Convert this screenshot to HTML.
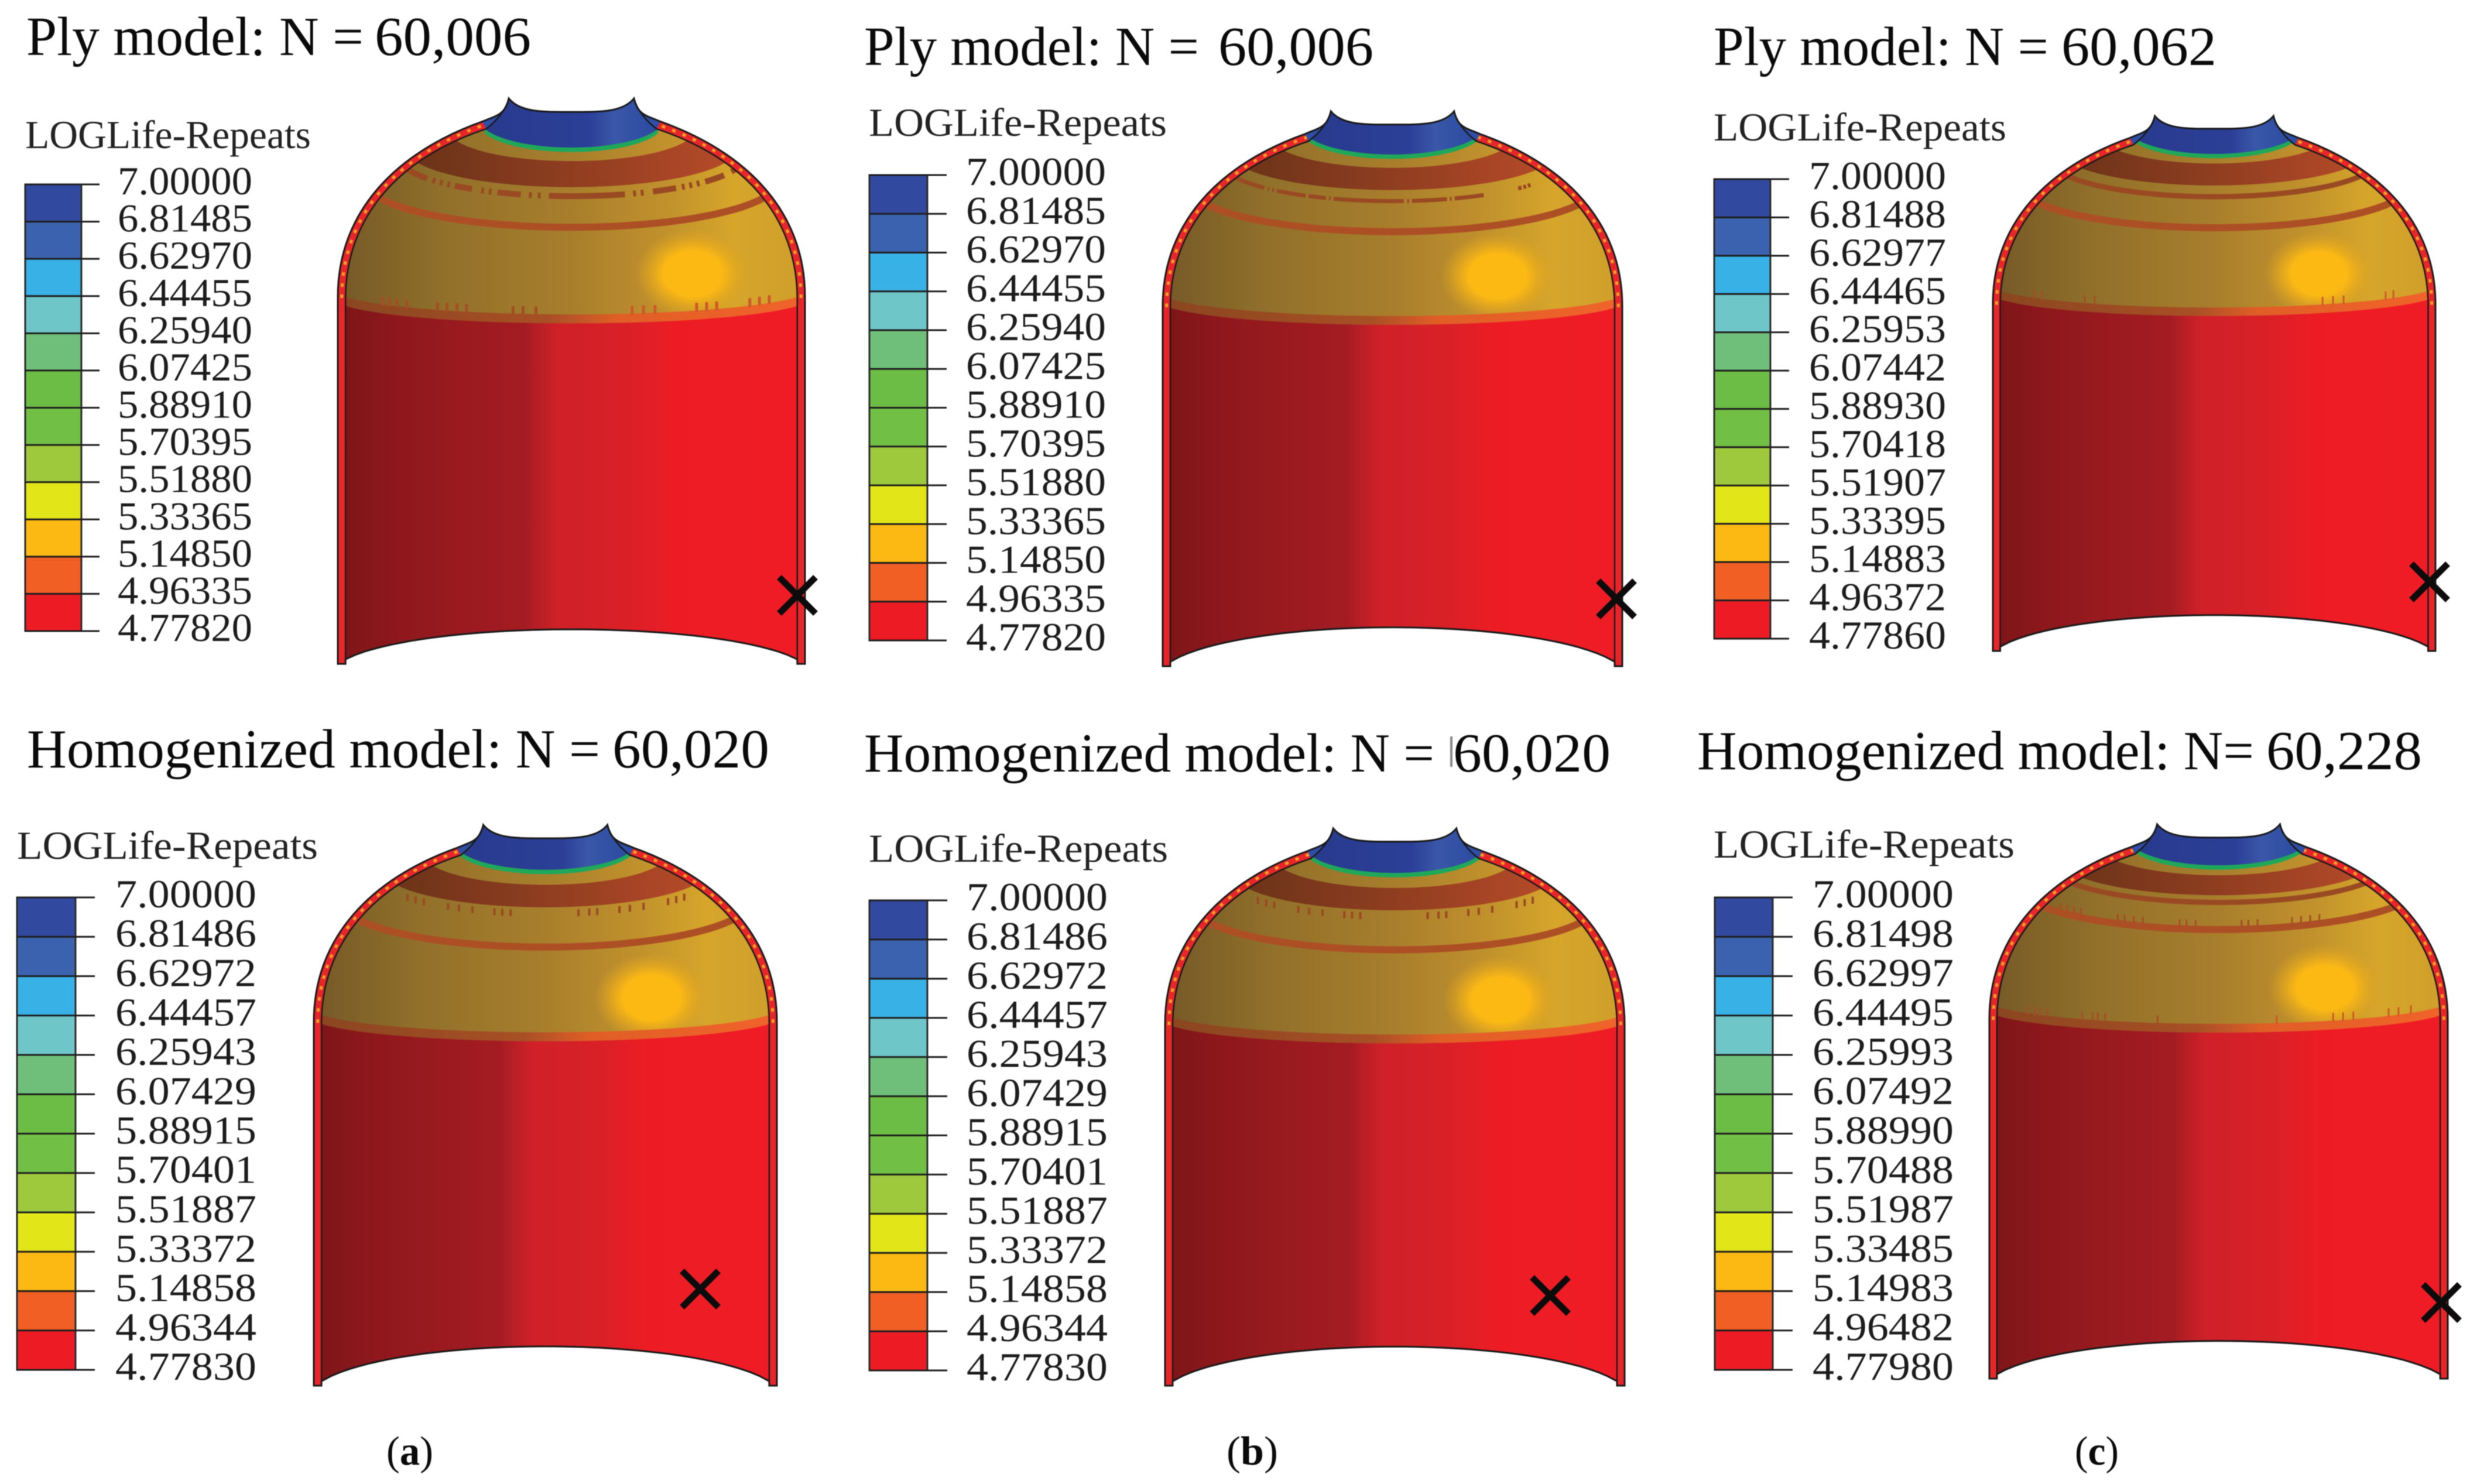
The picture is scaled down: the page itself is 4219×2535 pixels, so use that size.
<!DOCTYPE html>
<html lang="en">
<head>
<meta charset="utf-8">
<title>Fatigue life contours: ply and homogenized models</title>
<style>
html,body{margin:0;padding:0;background:#fff;width:4219px;height:2535px;overflow:hidden}
svg{display:block;filter:blur(.8px)}
text{font-family:"Liberation Serif","Times New Roman",serif;fill:#0a0a0a}
.head{font-size:94px}
.legend-title{font-size:68px;fill:#222}
.cap{font-size:70px}
</style>
</head>
<body>
<svg id="figure" xmlns="http://www.w3.org/2000/svg" width="4219" height="2535" viewBox="0 0 4219 2535">
<defs>
  <linearGradient id="bodyGrad" x1="0" x2="1" y1="0" y2="0">
    <stop offset="0" stop-color="#7f1518"/><stop offset=".13" stop-color="#8f181c"/>
    <stop offset=".4" stop-color="#a41c22"/><stop offset=".42" stop-color="#b31e25"/>
    <stop offset=".47" stop-color="#d02028"/><stop offset=".62" stop-color="#d92027"/>
    <stop offset=".73" stop-color="#ed1c24"/><stop offset="1" stop-color="#ef1c25"/>
  </linearGradient>
  <linearGradient id="domeGrad" x1="0" x2="1" y1="0" y2="0">
    <stop offset="0" stop-color="#775a27"/><stop offset=".22" stop-color="#91702a"/>
    <stop offset=".5" stop-color="#a87e2c"/><stop offset=".7" stop-color="#bf902c"/>
    <stop offset=".86" stop-color="#d6a52a"/><stop offset="1" stop-color="#cf9f2a"/>
  </linearGradient>
  <linearGradient id="brownGrad" x1="0" x2="1" y1="0" y2="0">
    <stop offset="0" stop-color="#6b3318"/><stop offset=".5" stop-color="#8f3d20"/><stop offset="1" stop-color="#b54a28"/>
  </linearGradient>
  <linearGradient id="edgeGrad" x1="0" x2="1" y1="0" y2="0">
    <stop offset="0" stop-color="#8a4620"/><stop offset=".45" stop-color="#a84f25"/>
    <stop offset=".6" stop-color="#e05e26"/><stop offset="1" stop-color="#f0632a"/>
  </linearGradient>
  <linearGradient id="capGrad" x1="0" x2="1" y1="0" y2="0">
    <stop offset="0" stop-color="#283a8c"/><stop offset=".6" stop-color="#2b3f98"/>
    <stop offset=".75" stop-color="#3a57a8"/><stop offset="1" stop-color="#2a49a0"/>
  </linearGradient>
  <radialGradient id="hotGrad">
    <stop offset="0" stop-color="#fdb913"/><stop offset=".5" stop-color="#fdb913"/>
    <stop offset=".72" stop-color="#e8ab1c" stop-opacity=".7"/><stop offset="1" stop-color="#d9a226" stop-opacity="0"/>
  </radialGradient>
</defs>

<g>
  <text class="head" x="45" y="94" textLength="576" lengthAdjust="spacingAndGlyphs">Ply model: N =</text>
  <text class="head" x="640" y="94" textLength="267" lengthAdjust="spacingAndGlyphs">60,006</text>
  <text class="head" x="1476" y="111" textLength="572" lengthAdjust="spacingAndGlyphs">Ply model: N =</text>
  <text class="head" x="2081" y="111" textLength="265" lengthAdjust="spacingAndGlyphs">60,006</text>
  <text class="head" x="2927" y="111" textLength="572" lengthAdjust="spacingAndGlyphs">Ply model: N =</text>
  <text class="head" x="3521" y="111" textLength="265" lengthAdjust="spacingAndGlyphs">60,062</text>
  <text class="head" x="46" y="1311" textLength="979" lengthAdjust="spacingAndGlyphs">Homogenized model: N =</text>
  <text class="head" x="1046" y="1311" textLength="268" lengthAdjust="spacingAndGlyphs">60,020</text>
  <text class="head" x="1476" y="1318" textLength="974" lengthAdjust="spacingAndGlyphs">Homogenized model: N =</text>
  <rect x="2477" y="1258" width="4" height="52" fill="#888"/>
  <text class="head" x="2482" y="1318" textLength="269" lengthAdjust="spacingAndGlyphs">60,020</text>
  <text class="head" x="2899" y="1314" textLength="951" lengthAdjust="spacingAndGlyphs">Homogenized model: N=</text>
  <text class="head" x="3871" y="1314" textLength="266" lengthAdjust="spacingAndGlyphs">60,228</text>
</g>

<g>
  <text class="legend-title" x="43" y="253" textLength="488" lengthAdjust="spacingAndGlyphs">LOGLife-Repeats</text>
  <text class="legend-title" x="1484" y="232" textLength="509" lengthAdjust="spacingAndGlyphs">LOGLife-Repeats</text>
  <text class="legend-title" x="2927" y="240" textLength="500" lengthAdjust="spacingAndGlyphs">LOGLife-Repeats</text>
  <text class="legend-title" x="29" y="1467" textLength="514" lengthAdjust="spacingAndGlyphs">LOGLife-Repeats</text>
  <text class="legend-title" x="1484" y="1472" textLength="511" lengthAdjust="spacingAndGlyphs">LOGLife-Repeats</text>
  <text class="legend-title" x="2927" y="1465" textLength="514" lengthAdjust="spacingAndGlyphs">LOGLife-Repeats</text>
</g>

<g>
  <text class="cap" x="660" y="2502" textLength="80" lengthAdjust="spacingAndGlyphs">(<tspan font-weight="bold">a</tspan>)</text>
  <text class="cap" x="2095" y="2502" textLength="88" lengthAdjust="spacingAndGlyphs">(<tspan font-weight="bold">b</tspan>)</text>
  <text class="cap" x="3544" y="2502" textLength="75" lengthAdjust="spacingAndGlyphs">(<tspan font-weight="bold">c</tspan>)</text>
</g>
</svg>

<script>
// Legend tick labels, one small array per panel.
const ticksPlyA = ['7.00000','6.81485','6.62970','6.44455','6.25940','6.07425','5.88910','5.70395','5.51880','5.33365','5.14850','4.96335','4.77820'];
const ticksPlyB = ['7.00000','6.81485','6.62970','6.44455','6.25940','6.07425','5.88910','5.70395','5.51880','5.33365','5.14850','4.96335','4.77820'];
const ticksPlyC = ['7.00000','6.81488','6.62977','6.44465','6.25953','6.07442','5.88930','5.70418','5.51907','5.33395','5.14883','4.96372','4.77860'];
const ticksHomA = ['7.00000','6.81486','6.62972','6.44457','6.25943','6.07429','5.88915','5.70401','5.51887','5.33372','5.14858','4.96344','4.77830'];
const ticksHomB = ['7.00000','6.81486','6.62972','6.44457','6.25943','6.07429','5.88915','5.70401','5.51887','5.33372','5.14858','4.96344','4.77830'];
const ticksHomC = ['7.00000','6.81498','6.62997','6.44495','6.25993','6.07492','5.88990','5.70488','5.51987','5.33485','5.14983','4.96482','4.77980'];
// Contour colours, top interval to bottom interval.
const contourColors = ['#314a9f','#3b62ae','#38b1e6','#6ec6c8','#6fbf7a','#6cbd45','#71bf44','#9fc93c','#e2e518','#fdb913','#f15f25','#ed1c24'];

const panelLayouts = [
  {id:'ply-a', ticks:ticksPlyA, bar:[43,139,315,1078], tickEnd:170, lab:[201,431],
   v:[577,1375,168,1134], fail:[1362,1017], hot:[.52,.31],
   bands:{green:.087,b2t:.111,b2b:.157,b3:.173,b4:.228,red:.398,foot:.939}, b3:'broken',
   edgeTicks:[-.808,-.78,-.746,-.705,-.574,-.532,-.49,-.449,-.25,-.207,-.152,.26,.309,.358,.536,.579,.622,.764,.805,.847], edgeW:5, ringTicks:[], b3Ticks:[]},
  {id:'ply-b', ticks:ticksPlyB, bar:[1485,1584,299,1094], tickEnd:1617, lab:[1650,1889],
   v:[1986,2771,190,1138], fail:[2761,1023], hot:[.457,.297],
   bands:{green:.078,b2t:.102,b2b:.142,b3:.162,b4:.217,red:.385,foot:.93}, b3:'fine',
   edgeTicks:[], edgeW:0, ringTicks:[], b3Ticks:[]},
  {id:'ply-c', ticks:ticksPlyC, bar:[2928,3024,306,1091], tickEnd:3056, lab:[3090,3324],
   v:[3404,4160,198,1112], fail:[4150,994], hot:[.474,.295],
   bands:{green:.071,b2t:.089,b2b:.13,b3:.151,b4:.209,red:.374,foot:.933}, b3:'solid',
   edgeTicks:[-.81,-.777,-.585,-.54,.49,.537,.585,.775,.81], edgeW:3, ringTicks:[], b3Ticks:[]},
  {id:'homogenized-a', ticks:ticksHomA, bar:[29,129,1533,2340], tickEnd:162, lab:[197,438],
   v:[536,1327,1409,2367], fail:[1196,2202], hot:[.459,.308],
   bands:{green:.08,b2t:.107,b2b:.147,b3:.158,b4:.218,red:.386,foot:.93}, b3:'none',
   edgeTicks:[], edgeW:0, ringTicks:[], b3Ticks:[-.596,-.56,-.525,-.42,-.373,-.315,-.22,-.186,-.15,.143,.19,.224,.32,.365,.424,.53,.565,.6]},
  {id:'homogenized-b', ticks:ticksHomB, bar:[1485,1584,1538,2341], tickEnd:1618, lab:[1651,1892],
   v:[1990,2775,1415,2367], fail:[2648,2213], hot:[.46,.308],
   bands:{green:.08,b2t:.107,b2b:.147,b3:.158,b4:.218,red:.386,foot:.93}, b3:'none',
   edgeTicks:[], edgeW:0, ringTicks:[], b3Ticks:[-.596,-.56,-.525,-.42,-.373,-.315,-.22,-.186,-.15,.143,.19,.224,.32,.365,.424,.53,.565,.6]},
  {id:'homogenized-c', ticks:ticksHomC, bar:[2929,3028,1533,2340], tickEnd:3062, lab:[3096,3337],
   v:[3398,4181,1408,2355], fail:[4170,2225], hot:[.466,.295],
   bands:{green:.074,b2t:.092,b2b:.128,b3:.141,b4:.19,red:.376,foot:.932}, b3:'solid',
   edgeTicks:[-.834,-.8,-.78,-.747,-.594,-.55,-.527,-.495,-.266,.254,.5,.543,.588,.742,.785,.839], edgeW:3,
   ringTicks:[-.69,-.66,-.63,-.6,-.44,-.41,-.37,-.33,-.17,-.14,-.1,.1,.13,.17,.32,.36,.4,.44], b3Ticks:[]}
];

const NS = 'http://www.w3.org/2000/svg';
const svg = document.getElementById('figure');
const defs = svg.querySelector('defs');

function make(parent, tag, attrs) {
  const node = document.createElementNS(NS, tag);
  for (const k in attrs) node.setAttribute(k, attrs[k]);
  parent.appendChild(node);
  return node;
}

// Band ends for each ring: half-extent across the dome and rise from centre to end.
const RING = {green:[.37,.033], b2t:[.5,.038], b2b:[.67,.046], b3:[.7,.047], b4:[.84,.056], red:[.97,.031], foot:[.967,0]};

function arcV(a, ae, rise, vc) {
  const s = .332;
  const ve = vc - rise;
  const vr = (ve - s * vc) / (1 - s);
  return vr + (vc - vr) * Math.sqrt(Math.max(0, 1 - Math.pow(a / (ae * 1.06), 2)));
}

function drawLegend(p, root) {
  const vals = p.ticks.map(parseFloat);
  const vMax = Math.max.apply(null, vals);
  const vMin = Math.min.apply(null, vals);
  const yScale = v => p.bar[2] + (vMax - v) / (vMax - vMin) * (p.bar[3] - p.bar[2]);
  const g = make(root, 'g', {});
  
  
  for (let i = 0; i < contourColors.length; i++) {
    const y0 = yScale(vals[i]);
    const y1 = yScale(vals[i + 1]);
    const swatch = make(g, 'rect', {x:p.bar[0], y:y0, width:p.bar[1]-p.bar[0], height:y1-y0, fill:contourColors[i]});
    
    
  }
  const frame = make(g, 'rect', {x:p.bar[0], y:p.bar[2], width:p.bar[1]-p.bar[0], height:p.bar[3]-p.bar[2], fill:'none', stroke:'#2a2a2a', 'stroke-width':3});
  
  
  p.ticks.forEach((label, i) => {
    const y = yScale(vals[i]);
    const line = make(g, 'line', {x1:p.bar[0], x2:p.tickEnd, y1:y, y2:y, stroke:'#1e1e1e', 'stroke-width':3});
    
    
    const t = make(g, 'text', {x:p.lab[0], y:y+17, 'font-size':68, textLength:p.lab[1]-p.lab[0], lengthAdjust:'spacingAndGlyphs', style:'fill:#1c1c1c'});
    t.textContent = label;
    
    
  });
}

function drawVessel(p, root) {
  const L = p.v[0], R = p.v[1], T = p.v[2], B = p.v[3];
  const cx = (L + R) / 2, hw = (R - L) / 2, H = B - T;
  const X = a => +(cx + a * hw).toFixed(1);
  const Y = v => +(T + v * H).toFixed(1);
  const P = (a, v) => X(a) + ' ' + Y(v);
  const b = p.bands;
  const arc = (key, vc, a0, a1) => {
    const pts = [];
    const ae = RING[key][0], rise = RING[key][1];
    const lo = a0 === undefined ? -ae : a0, hi = a1 === undefined ? ae : a1;
    for (let i = 0; i <= 48; i++) {
      const a = lo + (hi - lo) * i / 48;
      pts.push(P(a, arcV(a, ae, rise, vc)));
    }
    return pts;
  };
  const footEnd = .992;
  const footPts = [];
  for (let i = 0; i <= 48; i++) {
    const a = .967 - 1.934 * i / 48;
    const rise = b.foot - footEnd;
    footPts.push(P(a, arcV(a, .967, rise, b.foot)));
  }
  const topArc = 'C ' + P(-.22,.025) + ' ' + P(-.12,.024) + ' ' + P(0,.024) +
                 ' C ' + P(.12,.024) + ' ' + P(.22,.025) + ' ' + P(.268,0);
  const interior = 'M ' + P(-.967,footEnd) + ' L ' + P(-.967,.355) +
    ' C ' + P(-.967,.21) + ' ' + P(-.74,.105) + ' ' + P(-.365,.054) +
    ' C ' + P(-.32,.04) + ' ' + P(-.28,.02) + ' ' + P(-.268,0) + ' ' + topArc +
    ' C ' + P(.28,.02) + ' ' + P(.32,.04) + ' ' + P(.365,.054) +
    ' C ' + P(.74,.105) + ' ' + P(.967,.21) + ' ' + P(.967,.355) +
    ' L ' + footPts.join(' L ') + ' Z';
  const silhouette = 'M ' + P(-1,1) + ' L ' + P(-1,.351) +
    ' C ' + P(-1,.2) + ' ' + P(-.75,.095) + ' ' + P(-.381,.041) +
    ' C ' + P(-.32,.03) + ' ' + P(-.285,.03) + ' ' + P(-.268,0) + ' ' + topArc +
    ' C ' + P(.285,.03) + ' ' + P(.32,.03) + ' ' + P(.381,.041) +
    ' C ' + P(.75,.095) + ' ' + P(1,.2) + ' ' + P(1,.351) +
    ' L ' + P(1,1) + ' L ' + P(.967,1) + ' L ' + footPts.join(' L ') + ' L ' + P(-.967,1) + ' Z';

  const clipId = 'clip-' + p.id;
  const clip = make(defs, 'clipPath', {id:clipId});
  make(clip, 'path', {d:interior});

  const g = make(root, 'g', {});
  
  

  const wall = make(g, 'path', {d:silhouette, fill:'#e8262a'});
  
  

  const neckL = make(g, 'path', {d:'M '+P(-.381,.041)+' C '+P(-.32,.03)+' '+P(-.285,.03)+' '+P(-.268,0)+' C '+P(-.28,.02)+' '+P(-.32,.04)+' '+P(-.365,.054)+' Z', fill:'#2f4ea6'});
  
  
  const neckR = make(g, 'path', {d:'M '+P(.381,.041)+' C '+P(.32,.03)+' '+P(.285,.03)+' '+P(.268,0)+' C '+P(.28,.02)+' '+P(.32,.04)+' '+P(.365,.054)+' Z', fill:'#2f4ea6'});
  
  

  const hatchL = make(g, 'path', {d:'M '+P(-.983,.353)+' C '+P(-.983,.205)+' '+P(-.745,.1)+' '+P(-.373,.047), fill:'none', stroke:'#ef9f22', 'stroke-width':5, 'stroke-dasharray':'6 13'});
  
  
  const hatchR = make(g, 'path', {d:'M '+P(.983,.353)+' C '+P(.983,.205)+' '+P(.745,.1)+' '+P(.373,.047), fill:'none', stroke:'#ef9f22', 'stroke-width':5, 'stroke-dasharray':'6 13'});
  
  

  const inner = make(g, 'g', {'clip-path':'url(#' + clipId + ')'});
  
  

  const dome = make(inner, 'rect', {x:X(-.967), y:Y(0), width:X(.967)-X(-.967), height:Y(.45)-Y(0), fill:'url(#domeGrad)'});
  
  

  const hot = make(inner, 'ellipse', {cx:X(p.hot[0]), cy:Y(p.hot[1]), rx:hw*.25, ry:H*.08, fill:'url(#hotGrad)'});
  
  

  const band2 = make(inner, 'path', {d:'M '+arc('b2t',b.b2t).join(' L ')+' L '+arc('b2b',b.b2b).reverse().join(' L ')+' Z', fill:'url(#brownGrad)'});
  
  

  if (p.b3 !== 'none') {
    const style = {fill:'none', stroke:'#9a4a22', 'stroke-width':p.b3 === 'solid' ? 9 : (p.b3 === 'fine' ? 7 : 10)};
    if (p.b3 === 'broken') style['stroke-dasharray'] = '36 10 5 8 5 8 5 8 30 16 5 8 5 10 40 14 5 10 5 14 130 14 5 8 5 16 40 10 5 8 5 8 5 10 34 14 30';
    if (p.b3 === 'fine') style['stroke-dasharray'] = '60 6 3 5 3 5 50 5 30 5 3 5 120 6 3 5 60 5 3 5 50';
    style.d = 'M ' + arc('b3', b.b3).join(' L ');
    const band3 = make(inner, 'path', style);
    
    
  }
  p.b3Ticks.forEach(a => {
    const y = Y(arcV(a, RING.b3[0], RING.b3[1], b.b3));
    const m = make(inner, 'rect', {x:X(a)-2, y:y-6, width:4, height:12, fill:'#9a4a22'});
    
    
  });

  const ring = make(inner, 'path', {d:'M ' + arc('b4', b.b4).join(' L '), fill:'none', stroke:'#ad4f25', 'stroke-width':12});
  
  
  p.ringTicks.forEach(a => {
    const y = Y(arcV(a, RING.b4[0], RING.b4[1], b.b4));
    const m = make(inner, 'rect', {x:X(a)-1.5, y:y-16, width:3, height:12, fill:'#a84d25'});
    
    
  });

  const edge = make(inner, 'path', {d:'M '+arc('red',b.red-.016).join(' L ')+' L '+arc('red',b.red+.004).reverse().join(' L ')+' Z', fill:'url(#edgeGrad)'});
  
  
  p.edgeTicks.forEach(a => {
    const y = Y(arcV(a, RING.red[0], RING.red[1], b.red - .016));
    const m = make(inner, 'rect', {x:X(a)-p.edgeW/2, y:y-13, width:p.edgeW, height:15, fill:a > .2 ? '#cf5a25' : '#a34f24'});
    
    
  });

  const body = make(inner, 'path', {d:'M '+arc('red',b.red).join(' L ')+' L '+P(.97,1.02)+' L '+P(-.97,1.02)+' Z', fill:'url(#bodyGrad)'});
  
  

  const green = make(inner, 'path', {d:'M '+arc('green',b.green-.002).join(' L ')+' L '+arc('green',b.green+.008).reverse().join(' L ')+' Z', fill:'#1fa85a'});
  
  

  const cap = make(inner, 'path', {d:'M '+arc('green',b.green).join(' L ')+' L '+P(.37,-.02)+' L '+P(-.37,-.02)+' Z', fill:'url(#capGrad)'});
  
  

  const innerLine = make(g, 'path', {d:interior, fill:'none', stroke:'#1a1a1a', 'stroke-width':2.5});
  
  
  const outerLine = make(g, 'path', {d:silhouette, fill:'none', stroke:'#1a1a1a', 'stroke-width':3});
  
  

  const fg = make(g, 'g', {stroke:'#0c0c0c', 'stroke-width':11});
  
  
  const s = 31, fx = p.fail[0], fy = p.fail[1];
  const l1 = make(fg, 'line', {x1:fx-s, y1:fy-s, x2:fx+s, y2:fy+s});
  
  
  const l2 = make(fg, 'line', {x1:fx-s, y1:fy+s, x2:fx+s, y2:fy-s});
  
  
}

panelLayouts.forEach(p => {
  const group = make(svg, 'g', {});
  
  
  drawLegend(p, group);
  drawVessel(p, group);
});
</script>
</body>
</html>
